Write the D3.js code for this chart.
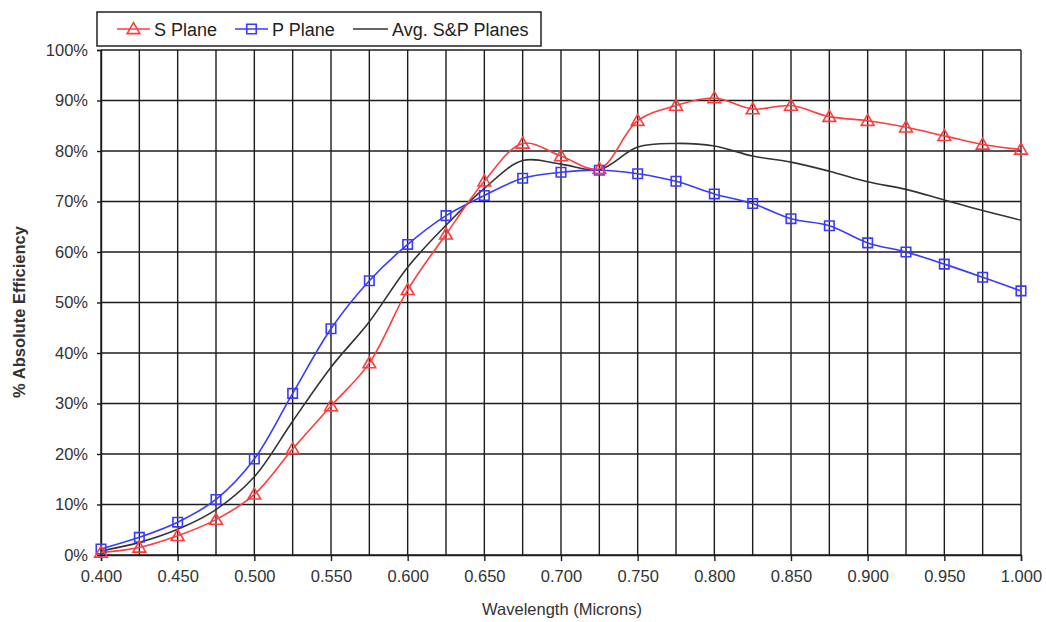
<!DOCTYPE html>
<html>
<head>
<meta charset="utf-8">
<script src="https://cdn.jsdelivr.net/npm/d3@7"></script>
<style>
  html, body { margin: 0; padding: 0; background: #fff; }
  svg { display: block; font-family: "Liberation Sans", Arial, sans-serif; }
</style>
</head>
<body>
<svg id="chart" width="1046" height="622"></svg>
<script>
// Wavelength samples (microns)
const wavelengths = [0.400, 0.425, 0.450, 0.475, 0.500, 0.525, 0.550, 0.575, 0.600, 0.625,
  0.650, 0.675, 0.700, 0.725, 0.750, 0.775, 0.800, 0.825, 0.850, 0.875,
  0.900, 0.925, 0.950, 0.975, 1.000];

// Absolute efficiency (%) per polarisation plane
const sPlane = [0.5, 1.5, 3.8, 7.0, 12.0, 21.0, 29.5, 38.0, 52.5, 63.5,
  74.0, 81.5, 79.0, 76.5, 86.0, 89.0, 90.5, 88.3, 89.0, 86.8,
  86.0, 84.7, 83.0, 81.3, 80.3];
const pPlane = [1.2, 3.5, 6.5, 11.0, 19.0, 32.0, 44.8, 54.3, 61.5, 67.2,
  71.2, 74.6, 75.8, 76.2, 75.5, 74.0, 71.5, 69.6, 66.6, 65.2,
  61.8, 60.0, 57.6, 55.0, 52.3];
const avgPlanes = [0.8, 2.5, 5.1, 9.0, 15.5, 26.5, 37.2, 46.2, 57.0, 65.3,
  72.6, 78.1, 77.4, 76.3, 80.8, 81.5, 81.0, 79.0, 77.8, 76.0,
  73.9, 72.4, 70.3, 68.2, 66.3];

const xTickLabels = ["0.400", "0.450", "0.500", "0.550", "0.600", "0.650", "0.700",
  "0.750", "0.800", "0.850", "0.900", "0.950", "1.000"];
const yTickLabels = ["0%", "10%", "20%", "30%", "40%", "50%", "60%", "70%", "80%", "90%", "100%"];

const seriesNames = ["S Plane", "P Plane", "Avg. S&P Planes"];

const svg = d3.select("#chart");
const plot = { left: 101, right: 1021, top: 50, bottom: 555 };

const x = d3.scaleLinear().domain([0.4, 1.0]).range([plot.left, plot.right]);
const y = d3.scaleLinear().domain([0, 100]).range([plot.bottom, plot.top]);

const gridColor = "#1c1c1c";
const labelFont = 16.5;

// Vertical grid lines every 0.025
const g = svg.append("g");
g.selectAll("line.vg").data(wavelengths).join("line")
  .attr("x1", d => x(d)).attr("x2", d => x(d))
  .attr("y1", plot.top).attr("y2", plot.bottom)
  .attr("stroke", gridColor).attr("stroke-width", 1.4);

// Horizontal grid lines every 10%
const yTicks = yTickLabels.map(t => parseFloat(t));
g.selectAll("line.hg").data(yTicks).join("line")
  .attr("x1", plot.left).attr("x2", plot.right)
  .attr("y1", d => y(d)).attr("y2", d => y(d))
  .attr("stroke", gridColor).attr("stroke-width", 1.4);

// X axis: major ticks with labels every 0.05
const xTicks = xTickLabels.map(t => parseFloat(t));
const xAxis = d3.axisBottom(x).tickValues(xTicks)
  .tickFormat((d, i) => xTickLabels[i]).tickSize(6).tickPadding(9);
const xa = svg.append("g").attr("transform", `translate(0,${plot.bottom})`).call(xAxis);
xa.select(".domain").attr("stroke", gridColor).attr("stroke-width", 1.4);
xa.selectAll(".tick line").attr("stroke", gridColor).attr("stroke-width", 1.4);
xa.selectAll(".tick text").attr("font-size", labelFont).attr("fill", "#333")
  .attr("font-family", "Liberation Sans, Arial, sans-serif");

// Y axis
const yAxis = d3.axisLeft(y).tickValues(yTicks)
  .tickFormat((d, i) => yTickLabels[i]).tickSize(4).tickPadding(9);
const ya = svg.append("g").attr("transform", `translate(${plot.left},0)`).call(yAxis);
ya.select(".domain").attr("stroke", gridColor).attr("stroke-width", 1.4);
ya.selectAll(".tick line").attr("stroke", gridColor).attr("stroke-width", 1.4);
ya.selectAll(".tick text").attr("font-size", labelFont).attr("fill", "#333")
  .attr("font-family", "Liberation Sans, Arial, sans-serif");

// Axis titles
svg.append("text")
  .attr("x", 562).attr("y", 615)
  .attr("text-anchor", "middle").attr("font-size", labelFont).attr("fill", "#333")
  .text("Wavelength (Microns)");
svg.append("text")
  .attr("transform", "translate(25,312) rotate(-90)")
  .attr("text-anchor", "middle").attr("font-size", labelFont).attr("font-weight", "bold").attr("fill", "#333")
  .text("% Absolute Efficiency");

// Series lines (smoothed)
const line = d3.line()
  .x((d, i) => x(wavelengths[i]))
  .y(d => y(d))
  .curve(d3.curveCatmullRom.alpha(0.5));

const red = "#ff3b3b", blue = "#3a3aff", dark = "#333333";

svg.append("path").datum(avgPlanes).attr("d", line)
  .attr("fill", "none").attr("stroke", dark).attr("stroke-width", 1.6);
svg.append("path").datum(pPlane).attr("d", line)
  .attr("fill", "none").attr("stroke", blue).attr("stroke-width", 1.6);
svg.append("path").datum(sPlane).attr("d", line)
  .attr("fill", "none").attr("stroke", red).attr("stroke-width", 1.6);

// Markers
const triangle = d3.symbol().type(d3.symbolTriangle).size(70);
const square = d3.symbol().type(d3.symbolSquare).size(90);

svg.append("g").selectAll("path").data(pPlane).join("path")
  .attr("d", square)
  .attr("transform", (d, i) => `translate(${x(wavelengths[i])},${y(d)})`)
  .attr("fill", "none").attr("stroke", blue).attr("stroke-width", 1.6);
svg.append("g").selectAll("path").data(sPlane).join("path")
  .attr("d", triangle)
  .attr("transform", (d, i) => `translate(${x(wavelengths[i])},${y(d) + 1})`)
  .attr("fill", "none").attr("stroke", red).attr("stroke-width", 1.6);

// Legend
const legend = svg.append("g");
legend.append("rect")
  .attr("x", 97).attr("y", 12).attr("width", 444).attr("height", 34)
  .attr("fill", "#fff").attr("stroke", "#222").attr("stroke-width", 1.5);

const legendItems = [
  { name: seriesNames[0], color: red, marker: triangle, x1: 117, x2: 150, tx: 154 },
  { name: seriesNames[1], color: blue, marker: square, x1: 235, x2: 268, tx: 272 },
  { name: seriesNames[2], color: dark, marker: null, x1: 353, x2: 388, tx: 392 }
];
const ly = 29;
legendItems.forEach(it => {
  legend.append("line").attr("x1", it.x1).attr("x2", it.x2).attr("y1", ly).attr("y2", ly)
    .attr("stroke", it.color).attr("stroke-width", 1.6);
  if (it.marker) {
    legend.append("path").attr("d", it.marker)
      .attr("transform", `translate(${(it.x1 + it.x2) / 2},${ly + (it.marker === triangle ? 1 : 0)})`)
      .attr("fill", "none").attr("stroke", it.color).attr("stroke-width", 1.6);
  }
  legend.append("text").attr("x", it.tx).attr("y", ly + 6.5)
    .attr("font-size", 18).attr("fill", "#222").text(it.name);
});
</script>
</body>
</html>
